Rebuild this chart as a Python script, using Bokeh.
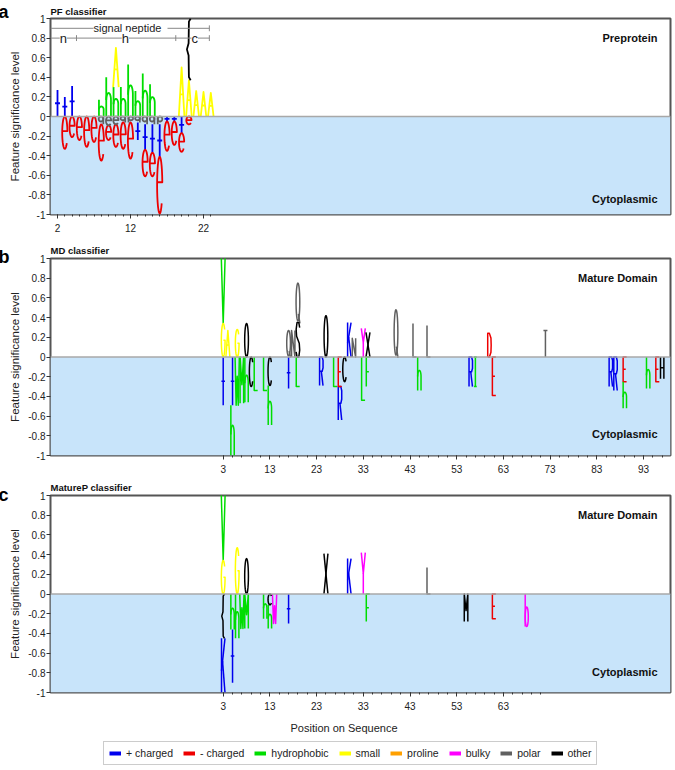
import numpy as np
from bokeh.plotting import figure
from bokeh.models import (Range1d, FixedTicker, CustomJSTickFormatter, BoxAnnotation,
                          Span, Label, Legend, LegendItem, Title)
from bokeh.layouts import column, row
from bokeh.core.properties import value
from bokeh.embed import file_html
from bokeh.resources import INLINE

FONT = "Liberation Sans"

# ---------------- data ----------------
group_keys = ["pos", "neg", "hyd", "sml", "pro", "blk", "pol", "oth"]
group_names = ["+ charged", "- charged", "hydrophobic", "small", "proline", "bulky", "polar", "other"]
group_colors = ["#0000ee", "#ee0000", "#00dd00", "#ffff00", "#ffa000", "#ff00ff", "#606060", "#000000"]

# Panel a: PF classifier (letters stacked from zero outward, in list order)
a_pos = [2, 3, 4, 8, 9, 10, 10, 11, 12, 13, 14, 15, 19, 20, 20, 21, 22, 23,
         3, 4, 5, 6, 7, 8, 8, 9, 9, 10, 10, 11, 11, 12, 12, 13, 13,
         14, 14, 14, 15, 15, 15, 16, 16, 16, 17, 17, 18, 18, 19, 19, 20]
a_char = ['+', '+', '+', 'h', 'h', 'h', 'A', 'h', 'h', 'h', 'h', 'h', 'A', 'A', '{', 'A', 'A', 'A',
          'e', 'e', 'e', 'e', 'e', 'q', 'e', 'e', 'e', 'e', 'e', 'q', 'e', 'p', 'e', 'q', '+',
          'q', '+', 'e', 'q', '+', 'e', 'p', '+', 'e', '+', 'e', '+', 'e', '+', 'e', 'e']
a_group = ['pos', 'pos', 'pos', 'hyd', 'hyd', 'hyd', 'sml', 'hyd', 'hyd', 'hyd', 'hyd', 'hyd',
           'sml', 'sml', 'oth', 'sml', 'sml', 'sml',
           'neg', 'neg', 'neg', 'neg', 'neg', 'pol', 'neg', 'pol', 'neg', 'pol', 'neg', 'pol', 'neg',
           'pol', 'neg', 'pol', 'pos', 'pol', 'pos', 'neg', 'pol', 'pos', 'neg', 'pol', 'pos', 'neg',
           'pos', 'neg', 'pos', 'neg', 'pos', 'neg', 'neg']
a_value = [0.27, 0.20, 0.31, 0.17, 0.40, 0.30, 0.40, 0.30, 0.53, 0.26, 0.44, 0.33,
           0.50, 0.37, 0.63, 0.26, 0.25, 0.24,
           -0.33, -0.21, -0.24, -0.31, -0.26, -0.08, -0.37, -0.09, -0.15, -0.08, -0.23, -0.06, -0.27,
           -0.06, -0.37, -0.06, -0.18, -0.08, -0.26, -0.27, -0.08, -0.29, -0.24, -0.08, -0.33, -0.58,
           -0.05, -0.30, -0.05, -0.24, -0.17, -0.19, -0.08]

# Panel b: MD classifier
b_pos = [3, 3, 4, 6, 8, 17, 18, 19, 19, 25, 30, 31, 33, 34, 40, 44, 47, 60, 72,
         3, 5, 5, 6, 7, 8, 9, 10, 12, 13, 13, 17, 19, 24, 27, 28, 28, 29, 33, 34,
         45, 56, 57, 61, 86, 87, 89, 89, 94, 96, 97]
b_char = ['G', 'V', 'A', 'G', 'O', 'Q', 'N', 'S', 'Q', 'O', 'K', 'N', 'Y', 'X', 'Q', 'L', 'L', 'D', 'T',
          '+', '+', 'h', 'W', 'M', 'h', 'C', 'L', 'L', 'C', 'h', '+', 'L', 'R', 'L', 'E', 'R', 'C', 'L', 'F',
          'h', 'R', 'I', 'E', 'R', 'R', 'E', 'h', 'h', 'E', 'H']
b_group = ['sml', 'hyd', 'sml', 'sml', 'oth', 'pol', 'pol', 'oth', 'pol', 'oth', 'pos', 'pol', 'blk',
           'oth', 'pol', 'pol', 'pol', 'neg', 'pol',
           'pos', 'pos', 'hyd', 'hyd', 'hyd', 'hyd', 'oth', 'hyd', 'hyd', 'oth', 'hyd', 'pos', 'hyd',
           'pos', 'hyd', 'neg', 'pos', 'oth', 'hyd', 'hyd', 'hyd', 'pos', 'hyd', 'neg', 'pos', 'pos',
           'neg', 'hyd', 'hyd', 'neg', 'oth']
b_value = [0.34, 0.70, 0.27, 0.28, 0.34, 0.27, 0.27, 0.35, 0.40, 0.42, 0.35, 0.19, 0.29, 0.25,
           0.48, 0.34, 0.32, 0.24, 0.27,
           -0.49, -0.49, -0.51, -0.49, -0.47, -0.46, -0.30, -0.34, -0.34, -0.29, -0.40, -0.32, -0.30,
           -0.29, -0.30, -0.30, -0.34, -0.25, -0.44, -0.30, -0.34, -0.30, -0.30, -0.39, -0.30, -0.34,
           -0.25, -0.27, -0.32, -0.25, -0.22]

# Panel c: MatureP classifier
c_pos = [3, 3, 6, 8, 25, 30, 33, 47,
         3, 3, 5, 5, 6, 7, 8, 12, 13, 13, 14, 17, 34, 55, 61, 68]
c_char = ['G', 'V', 'G', 'O', 'X', 'K', 'Y', 'L',
          '{', 'K', 'h', '+', 'h', 'W', 'M', 'h', 'C', 'h', 'W', '+', 'F', 'M', 'E', 'b']
c_group = ['sml', 'hyd', 'sml', 'oth', 'oth', 'pos', 'blk', 'pol',
           'oth', 'pos', 'hyd', 'pos', 'hyd', 'hyd', 'hyd', 'hyd', 'oth', 'hyd', 'blk', 'pos',
           'hyd', 'oth', 'neg', 'blk']
c_value = [0.34, 0.70, 0.47, 0.36, 0.41, 0.36, 0.42, 0.27,
           -0.45, -0.55, -0.36, -0.54, -0.45, -0.35, -0.35, -0.25, -0.11, -0.24, -0.30, -0.30,
           -0.28, -0.28, -0.25, -0.33]

# signal-peptide region boundaries (panel a) and labels
sp_bounds = [4.6, 18.2, 22.8]
sp_regions = ["n", "h", "c"]
sp_region_x = [2.8, 11.3, 20.8]
sp_label_x = 12.0

a_ticks = [2, 12, 22]
a_minor = list(range(2, 24))
b_ticks = list(range(3, 94, 10))
b_minor = list(range(3, 98, 2))
c_ticks = list(range(3, 64, 10))
c_minor = list(range(3, 72, 2))
y_ticks = [-1, -0.8, -0.6, -0.4, -0.2, 0, 0.2, 0.4, 0.6, 0.8, 1]

# ---------------- letter stroke shapes (unit box) ----------------
def ell(cx, cy, rx, ry, a0, a1, n=28):
    t = np.radians(np.linspace(a0, a1, n))
    return list(zip(cx + rx * np.cos(t), cy + ry * np.sin(t)))

GLYPHS = {
    '+': [[(0.5, 0), (0.5, 1)], [(0.1, 0.5), (0.9, 0.5)]],
    'e': [[(0.08, 0.55), (0.92, 0.55)] + ell(0.5, 0.5, 0.42, 0.5, 8, 320)],
    'h': [[(0.12, 0), (0.12, 1)], ell(0.5, 0.42, 0.38, 0.18, 180, 0) + [(0.88, 0)]],
    'A': [[(0.05, 0), (0.5, 1), (0.95, 0)], [(0.27, 0.45), (0.73, 0.45)]],
    'V': [[(0.05, 1), (0.5, 0), (0.95, 1)]],
    'G': [ell(0.5, 0.5, 0.42, 0.5, 40, 360) + [(0.55, 0.5)]],
    'O': [ell(0.5, 0.5, 0.42, 0.5, 0, 360)],
    'C': [ell(0.5, 0.5, 0.42, 0.5, 40, 320)],
    'Q': [ell(0.5, 0.52, 0.42, 0.48, 0, 360), [(0.6, 0.22), (0.95, -0.02)]],
    'S': [[(0.9, 0.85), (0.7, 1), (0.3, 1), (0.1, 0.8), (0.2, 0.6), (0.5, 0.5), (0.8, 0.4),
           (0.9, 0.2), (0.7, 0), (0.3, 0), (0.1, 0.15)]],
    'L': [[(0.12, 1), (0.12, 0), (0.9, 0)]],
    'I': [[(0.5, 0), (0.5, 1)], [(0.2, 1), (0.8, 1)], [(0.2, 0), (0.8, 0)]],
    'T': [[(0.05, 1), (0.95, 1)], [(0.5, 1), (0.5, 0)]],
    'K': [[(0.12, 0), (0.12, 1)], [(0.9, 1), (0.12, 0.4)], [(0.35, 0.58), (0.9, 0)]],
    'N': [[(0.12, 0), (0.12, 1), (0.88, 0), (0.88, 1)]],
    'Y': [[(0.05, 1), (0.5, 0.5), (0.95, 1)], [(0.5, 0.5), (0.5, 0)]],
    'X': [[(0.05, 1), (0.95, 0)], [(0.05, 0), (0.95, 1)]],
    'R': [[(0.12, 0), (0.12, 1), (0.7, 1), (0.9, 0.88), (0.9, 0.62), (0.7, 0.5), (0.12, 0.5)],
          [(0.5, 0.5), (0.9, 0)]],
    'D': [[(0.12, 0), (0.12, 1), (0.5, 1), (0.85, 0.8), (0.9, 0.5), (0.85, 0.2), (0.5, 0), (0.12, 0)]],
    'E': [[(0.9, 1), (0.12, 1), (0.12, 0), (0.9, 0)], [(0.12, 0.5), (0.7, 0.5)]],
    'F': [[(0.9, 1), (0.12, 1), (0.12, 0)], [(0.12, 0.5), (0.7, 0.5)]],
    'H': [[(0.12, 0), (0.12, 1)], [(0.88, 0), (0.88, 1)], [(0.12, 0.5), (0.88, 0.5)]],
    'M': [[(0.1, 0), (0.1, 1), (0.5, 0.4), (0.9, 1), (0.9, 0)]],
    'W': [[(0.02, 1), (0.26, 0), (0.5, 0.6), (0.74, 0), (0.98, 1)]],
    'b': [[(0.15, 1), (0.15, 0)], ell(0.5, 0.3, 0.35, 0.3, 0, 360)],
    'q': [ell(0.45, 0.68, 0.37, 0.32, 0, 360), [(0.82, 1), (0.82, 0)]],
    'p': [ell(0.55, 0.68, 0.37, 0.32, 0, 360), [(0.18, 1), (0.18, 0)]],
    '{': [[(0.78, 1), (0.5, 0.95), (0.45, 0.6), (0.18, 0.5), (0.45, 0.4), (0.5, 0.05), (0.78, 0)]],
}

color_of = dict(zip(group_keys, group_colors))


def stack(pos, val):
    cum_p, cum_n, lo, hi = {}, {}, [], []
    for p, v in zip(pos, val):
        if v >= 0:
            b = cum_p.get(p, 0.0)
            cum_p[p] = b + v
            lo.append(b); hi.append(b + v)
        else:
            b = cum_n.get(p, 0.0)
            cum_n[p] = b + v
            lo.append(b + v); hi.append(b)
    return lo, hi


def draw_letters(fig, pos, char, grp, val, w, lw):
    lo, hi = stack(pos, val)
    for g in group_keys:
        xs, ys = [], []
        for p, ch, gg, l, h in zip(pos, char, grp, lo, hi):
            if gg != g:
                continue
            for stroke in GLYPHS[ch]:
                xs.append([p + (u - 0.5) * w for u, v in stroke])
                ys.append([l + v * (h - l) for u, v in stroke])
        if xs:
            fig.multi_line(xs, ys, line_color=color_of[g], line_width=lw, line_join="round")


SIDE_W = 24
MAIN_W = 650
FRAME_L, FRAME_R = 50, 670


def make_panel(height, x0, x1, ticks, minor, top, bottom, title, standoff):
    f = figure(width=MAIN_W, height=height, x_range=Range1d(x0, x1), y_range=Range1d(-1, 1),
               output_backend="svg", toolbar_location=None, title=title,
               min_border_left=FRAME_L - SIDE_W, min_border_right=SIDE_W + MAIN_W - FRAME_R,
               min_border_top=top, min_border_bottom=bottom)
    f.title.align = "left"
    f.title.text_font = FONT
    f.title.text_font_size = "9.5px"
    f.title.text_font_style = "bold"
    f.title.text_color = "#111111"
    f.title.standoff = standoff
    f.grid.visible = False
    f.outline_line_color = "#555555"
    f.outline_line_width = 2
    f.add_layout(BoxAnnotation(top=0, fill_color="#c8e4fa", fill_alpha=1, line_color=None,
                               level="underlay"))
    f.add_layout(Span(location=0, dimension="width", line_color="#a8a8a8", line_width=1.5))
    f.xaxis.ticker = FixedTicker(ticks=ticks, minor_ticks=minor)
    f.yaxis.ticker = FixedTicker(ticks=y_ticks, minor_ticks=[])
    f.yaxis.formatter = CustomJSTickFormatter(code="return String(Math.round(tick*10)/10);")
    for ax in (f.xaxis, f.yaxis):
        ax.axis_line_color = None
        ax.major_tick_line_color = "#333333"
        ax.minor_tick_line_color = "#333333"
        ax.major_tick_out = 4
        ax.major_tick_in = 0
        ax.minor_tick_out = 2
        ax.minor_tick_in = 0
        ax.major_label_text_font = FONT
        ax.major_label_text_font_size = "10px"
        ax.major_label_text_color = "#222222"
    f.xaxis.major_label_standoff = 5
    f.yaxis.major_label_standoff = 1
    return f


def px_x(f, xpix):
    r = f.x_range
    return r.start + (xpix - FRAME_L) * (r.end - r.start) / float(FRAME_R - FRAME_L)


def add_text(f, x, y, text, size, bold=False, align="left", bg=None, color="#111111"):
    f.add_layout(Label(x=x, y=y, text=text, text_font=FONT, text_font_size=size,
                       text_font_style="bold" if bold else "normal", text_align=align,
                       text_baseline="middle", text_color=color,
                       background_fill_color=bg))


def make_side(height, letter, standoff):
    # narrow strip left of a panel: panel letter (as title) and the rotated y-axis title
    s = figure(width=SIDE_W, height=height, x_range=Range1d(0, SIDE_W), y_range=Range1d(-1, 1),
               output_backend="svg", toolbar_location=None, min_border=0, title=letter,
               x_axis_location=None, y_axis_location=None, outline_line_color=None)
    s.title.align = "left"
    s.title.offset = -2
    s.title.text_font = FONT
    s.title.text_font_size = "18px"
    s.title.text_font_style = "bold"
    s.title.text_color = "#000000"
    s.title.standoff = standoff
    s.grid.visible = False
    s.text(x=[14], y=[0], text=["Feature significance level"], text_font=value(FONT),
           text_font_size="11.5px", text_baseline="middle", text_align="center",
           angle=np.pi / 2, text_color="#222222")
    return s


# ---------------- panel a ----------------
fa = make_panel(236, 1.04, 85.97, a_ticks, a_minor, 18, 22, "PF classifier", 4)
draw_letters(fa, a_pos, a_char, a_group, a_value, 0.85, 1.8)
sp_start = fa.x_range.start
fa.segment(x0=[sp_start, sp_start], y0=[0.9, 0.8], x1=[sp_bounds[-1]] * 2, y1=[0.9, 0.8],
           line_color="#888888", line_width=1)
fa.segment(x0=[sp_bounds[-1]] + sp_bounds, y0=[0.87] + [0.77] * 3,
           x1=[sp_bounds[-1]] + sp_bounds, y1=[0.93] + [0.83] * 3,
           line_color="#888888", line_width=1)
add_text(fa, sp_label_x, 0.9, " signal peptide ", "11px", align="center", bg="white", color="#222222")
for lab, xx in zip(sp_regions, sp_region_x):
    add_text(fa, xx, 0.8, lab, "13px", align="center", bg="white", color="#222222")
add_text(fa, px_x(fa, 657), 0.796, "Preprotein", "11px", bold=True, align="right")
add_text(fa, px_x(fa, 657), -0.837, "Cytoplasmic", "11px", bold=True, align="right")
sa = make_side(236, "a", -6)

# ---------------- panel b ----------------
fb = make_panel(240, -33.98, 98.78, b_ticks, b_minor, 22, 21, "MD classifier", 6)
draw_letters(fb, b_pos, b_char, b_group, b_value, 0.95, 1.5)
add_text(fb, px_x(fb, 657), 0.807, "Mature Domain", "11px", bold=True, align="right")
add_text(fb, px_x(fb, 657), -0.777, "Cytoplasmic", "11px", bold=True, align="right")
sb = make_side(240, "b", -16)

# ---------------- panel c ----------------
fc = make_panel(264, -33.98, 98.78, c_ticks, c_minor, 19, 48, "MatureP classifier", 5)
draw_letters(fc, c_pos, c_char, c_group, c_value, 0.95, 1.5)
add_text(fc, px_x(fc, 657), 0.807, "Mature Domain", "11px", bold=True, align="right")
add_text(fc, px_x(fc, 657), -0.787, "Cytoplasmic", "11px", bold=True, align="right")
fc.add_layout(Title(text="Position on Sequence", align="left", offset=240, standoff=14,
                    text_font=FONT, text_font_size="11px", text_font_style="normal",
                    text_color="#222222"), "below")
sc = make_side(264, "c", -19)

# ---------------- legend ----------------
fl = figure(width=SIDE_W + MAIN_W, height=30, x_range=Range1d(0, 1), y_range=Range1d(0, 1),
            output_backend="svg", toolbar_location=None, min_border=0, title=None,
            x_axis_location=None, y_axis_location=None, outline_line_color=None)
fl.grid.visible = False
items = []
for name, col in zip(group_names, group_colors):
    r = fl.line(x=[-10, -9], y=[-10, -9], line_color=col, line_width=4)
    items.append(LegendItem(label=name, renderers=[r]))
leg = Legend(items=items, orientation="horizontal", location=(103, 5),
             label_text_font=FONT, label_text_font_size="10.5px", label_text_color="#222222",
             glyph_width=12, glyph_height=12, label_height=12, label_standoff=5, spacing=10,
             padding=5, margin=0, border_line_color="#999999", border_line_width=1)
fl.add_layout(leg)

page = column(row(sa, fa, spacing=0), row(sb, fb, spacing=0), row(sc, fc, spacing=0), fl, spacing=0)
open("out.html", "w").write(file_html(page, INLINE))
